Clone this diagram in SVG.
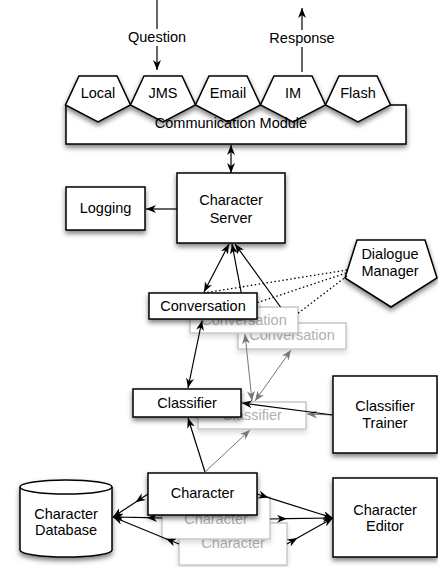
<svg xmlns="http://www.w3.org/2000/svg" width="438" height="567" viewBox="0 0 438 567">
<defs>
<filter id="sh" x="-20%" y="-20%" width="140%" height="170%"><feDropShadow dx="0" dy="3" stdDeviation="2.5" flood-color="#000" flood-opacity="0.5"/></filter>
<filter id="shl" x="-20%" y="-20%" width="140%" height="170%"><feDropShadow dx="0" dy="3" stdDeviation="2.5" flood-color="#000" flood-opacity="0.15"/></filter>
<marker id="ah" viewBox="0 0 10 8" refX="10" refY="4" markerWidth="10" markerHeight="8" markerUnits="userSpaceOnUse" orient="auto-start-reverse"><path d="M0,0 L10,4 L0,8 L3,4 z" fill="#000"/></marker>
<marker id="ahg" viewBox="0 0 10 8" refX="10" refY="4" markerWidth="10" markerHeight="8" markerUnits="userSpaceOnUse" orient="auto-start-reverse"><path d="M0,0 L10,4 L0,8 L3,4 z" fill="#777"/></marker>
</defs>
<style>
.box{fill:#fff;stroke:#000;stroke-width:1.5;filter:url(#sh)}
.ghost{fill:#fff;stroke:#c8c8c8;stroke-width:1.5;filter:url(#shl)}
text{font-family:"Liberation Sans",Arial,sans-serif;font-size:14.5px;text-anchor:middle;fill:#000}
.gt{fill:#b0b0b0}
.ln{fill:none;stroke:#000;stroke-width:1.2}
.gl{fill:none;stroke:#777;stroke-width:1}
.a{marker-end:url(#ah)}
.aa{marker-start:url(#ah);marker-end:url(#ah)}
.m{marker-mid:url(#ah);marker-end:url(#ah)}
.ga{marker-end:url(#ahg)}
.gaa{marker-start:url(#ahg);marker-end:url(#ahg)}
.dot{fill:none;stroke:#000;stroke-width:1.3;stroke-dasharray:1.5 2.5}
</style>

<g id="communication-module">
<rect class="box" x="66" y="105" width="340" height="39"/>
<g id="local"><polygon class="box" points="79,76 117,76 130.5,105 98,122 65.5,105"/><text x="98" y="98">Local</text></g>
<g id="jms"><polygon class="box" points="144,76 182,76 195.5,105 163,122 130.5,105"/><text x="163" y="98">JMS</text></g>
<g id="email"><polygon class="box" points="209,76 247,76 260.5,105 228,122 195.5,105"/><text x="228" y="98">Email</text></g>
<g id="im"><polygon class="box" points="274,76 312,76 325.5,105 293,122 260.5,105"/><text x="293" y="98">IM</text></g>
<g id="flash"><polygon class="box" points="339,76 377,76 390.5,105 358,122 325.5,105"/><text x="358" y="98">Flash</text></g>
<text x="231" y="128">Communication Module</text>
</g>

<g id="character-server"><rect class="box" x="177" y="173" width="108" height="70"/><text x="231" y="205">Character</text><text x="231" y="223">Server</text></g>
<g id="logging"><rect class="box" x="66" y="187" width="79" height="43"/><text x="105.5" y="213">Logging</text></g>
<g id="dialogue-manager"><polygon class="box" points="357,240 425,240 437,278 391,307 345,278"/><text x="390" y="259">Dialogue</text><text x="390" y="276">Manager</text></g>
<g id="classifier-trainer"><rect class="box" x="333" y="376" width="104" height="77"/><text x="385" y="410.5">Classifier</text><text x="385" y="427.5">Trainer</text></g>
<g id="character-editor"><rect class="box" x="333" y="478" width="104" height="79"/><text x="385" y="515">Character</text><text x="385" y="531">Editor</text></g>
<g id="character-database"><path class="box" d="M20,487 L20,550 A46,7 0 0 0 112,550 L112,487 A46,7 0 0 0 20,487 Z"/><path d="M20,487 A46,7 0 0 0 112,487" fill="none" stroke="#000" stroke-width="1.5"/><text x="66" y="518.5">Character</text><text x="66" y="535">Database</text></g>

<g id="conversation-3"><rect class="ghost" x="238" y="323" width="108" height="26"/><text class="gt" x="292" y="340">Conversation</text></g>
<g id="classifier-2"><rect class="ghost" x="198" y="402" width="108" height="27"/><text class="gt" x="252" y="420">Classifier</text></g>
<g id="character-3"><rect class="ghost" x="179" y="523" width="108" height="42"/><text class="gt" x="233" y="548">Character</text></g>

<g id="conversation-2"><rect class="ghost" x="190" y="307" width="108" height="26"/><text class="gt" x="244" y="325">Conversation</text></g>
<g id="character-2"><rect class="ghost" x="162" y="497" width="108" height="42"/><text class="gt" x="216" y="523.5">Character</text></g>
<g id="conversation"><rect class="box" x="149" y="293" width="108" height="26"/><text x="203" y="310.5">Conversation</text></g>
<g id="classifier"><rect class="box" x="133" y="389" width="108" height="28"/><text x="187" y="407.5">Classifier</text></g>

<g id="connectors">
<path class="ln a" d="M157,0 L157,70"/>
<rect x="126" y="29" width="62" height="17" fill="#fff"/><text x="157" y="42">Question</text>
<path class="ln a" d="M302,72 L302,8"/>
<rect x="270" y="30" width="64" height="17" fill="#fff"/><text x="302" y="43">Response</text>
<path class="ln aa" d="M231,145 L231,173"/>
<path class="ln a" d="M177,209 L146,209"/>
<path class="ln aa" d="M204,292 L229,244"/>
<path class="ln a" d="M241.3,293 L232,244"/>
<path class="ln a" d="M280.5,307 L235,244"/>
<path class="dot" d="M347,270 L204,293"/>
<path class="dot" d="M346,273 L257.5,302.6"/>
<path class="dot" d="M347,276 L298,313.3"/>
<path class="ln aa" d="M202,320.5 L188,388"/>
<path class="gl gaa" d="M245,334 L252,401"/>
<path class="gl gaa" d="M291,350 L255,401"/>
<path class="gl ga" d="M333,415 L307,414"/>
<path class="ln a" d="M333,415 L242,403"/>
<path class="ln a" d="M205,472 L188,418"/>
<path class="gl ga" d="M205,472 L250,430"/>
<path class="ln m" d="M148,494 L135.5,502.2 L113,517"/>
<path class="ln m" d="M162,518 L147,517.7 L113,517"/>
<path class="ln m" d="M179,544 L166,538.7 L113,517"/>
<path class="ln m" d="M257,494 L268.4,497.6 L333,518"/>
<path class="ln m" d="M270,519 L287,518.7 L333,518"/>
<path class="ln m" d="M287,544 L297.4,538.1 L333,518"/>
</g>

<g id="character"><rect class="box" x="148" y="473" width="109" height="42"/><text x="202.5" y="497.5">Character</text></g>
</svg>
